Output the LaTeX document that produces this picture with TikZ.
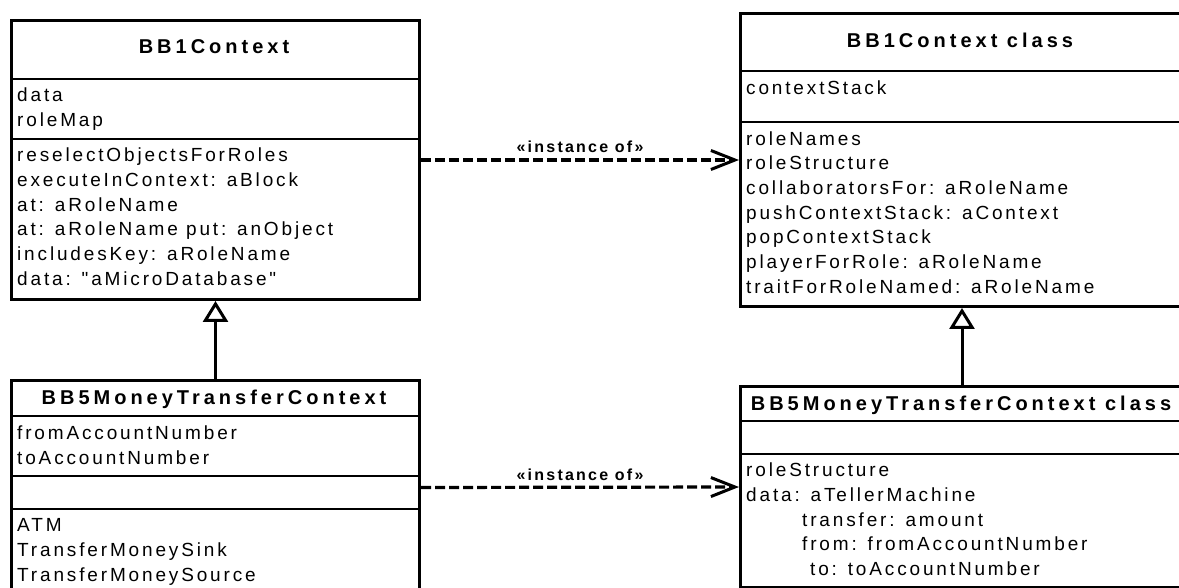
\documentclass[tikz,border=0pt]{standalone}
\usepackage{fontspec}
\setmainfont{Liberation Sans}
\newfontfamily\umlfont[LetterSpace=15]{Liberation Sans}
\newfontfamily\umltitle[LetterSpace=20]{Liberation Sans}
\newfontfamily\umllabel[LetterSpace=14]{Liberation Sans}
\usetikzlibrary{arrows.meta}

\begin{document}
\begin{tikzpicture}[x=1pt,y=-1pt,
  classbox/.style={draw, line width=3pt, inner sep=0pt, anchor=north west},
  compartment/.style={line width=1.6pt},
  classtitle/.style={font=\umltitle\bfseries\fontsize{20}{24}\selectfont, anchor=base, inner sep=0pt},
  members/.style={font=\umlfont\fontsize{19}{24.7}\selectfont, align=left, anchor=north west, inner sep=0pt},
  stereo/.style={font=\umllabel\bfseries\fontsize{16}{19}\selectfont, anchor=base, inner sep=0pt, yshift=7pt},
  instanceof/.style={line width=3.2pt, dash pattern=on 10pt off 4pt,
    -{Straight Barb[length=24pt,width=19pt,line width=3pt]}},
  inherits/.style={line width=3pt, -{Triangle[open,length=21pt,width=25pt]}}
]
\useasboundingbox (0,0) rectangle (1179,588);
\clip (0,0) rectangle (1179,588);

% ---- BB1Context ----
\node[classbox, minimum width=408pt, minimum height=279pt] (ctx) at (10,19) {};
\draw[compartment] (ctx.west |- 0,79) -- (ctx.east |- 0,79);
\draw[compartment] (ctx.west |- 0,139) -- (ctx.east |- 0,139);
\node[classtitle] (ctx-name) at (214,54) {BB1Context};
\node[members] (ctx-attrs) at (17,84.4) {\strut data\\roleMap};
\node[members] (ctx-ops) at (17,144.4) {\strut reselectObjectsForRoles\\executeInContext: aBlock\\at: aRoleName\\at: aRoleName put: anObject\\includesKey: aRoleName\\data: "aMicroDatabase"};

% ---- BB1Context class ----
\node[classbox, minimum width=443pt, minimum height=293pt] (ctxcls) at (739,12) {};
\draw[compartment] (ctxcls.west |- 0,71) -- (ctxcls.east |- 0,71);
\draw[compartment] (ctxcls.west |- 0,122) -- (ctxcls.east |- 0,122);
\node[classtitle] (ctxcls-name) at (960,48) {BB1Context class};
\node[members] (ctxcls-attrs) at (746,77.0) {\strut contextStack};
\node[members] (ctxcls-ops) at (746,127.7) {\strut roleNames\\roleStructure\\collaboratorsFor: aRoleName\\pushContextStack: aContext\\popContextStack\\playerForRole: aRoleName\\traitForRoleNamed: aRoleName};

% ---- BB5MoneyTransferContext ----
\node[classbox, minimum width=408pt, minimum height=214pt] (mtc) at (10,379) {};
\draw[compartment] (mtc.west |- 0,416) -- (mtc.east |- 0,416);
\draw[compartment] (mtc.west |- 0,476) -- (mtc.east |- 0,476);
\draw[compartment] (mtc.west |- 0,509) -- (mtc.east |- 0,509);
\node[classtitle] (mtc-name) at (214,404) {BB5MoneyTransferContext};
\node[members] (mtc-attrs) at (17,422.0) {\strut fromAccountNumber\\toAccountNumber};
\node[members] (mtc-roles) at (17,514.4) {\strut ATM\\TransferMoneySink\\TransferMoneySource};

% ---- BB5MoneyTransferContext class ----
\node[classbox, minimum width=443pt, minimum height=201pt] (mtccls) at (739,385) {};
\draw[compartment] (mtccls.west |- 0,421) -- (mtccls.east |- 0,421);
\draw[compartment] (mtccls.west |- 0,454) -- (mtccls.east |- 0,454);
\node[classtitle] (mtccls-name) at (961,410) {BB5MoneyTransferContext class};
\node[members] (mtccls-ops) at (746,459.4) {\strut roleStructure\\data: aTellerMachine\\\hspace*{56pt}transfer: amount\\\hspace*{56pt}from: fromAccountNumber\\\hspace*{64pt}to: toAccountNumber};

% ---- relationships ----
\draw[inherits] (mtc.north) -- (ctx.south);
\draw[inherits] (mtccls.north) -- (ctxcls.south);
\draw[instanceof] (ctx.east) -- node[stereo] (inst-top) {«instance of»} (ctxcls.west);
\draw[instanceof] (mtc.east) -- node[stereo] (inst-bottom) {«instance of»} (mtccls.west);
\end{tikzpicture}
\end{document}
